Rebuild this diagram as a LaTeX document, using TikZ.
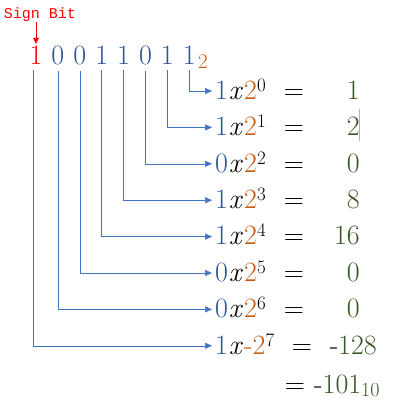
\documentclass[tikz,border=0pt]{standalone}
\usepackage{fontspec}
\usetikzlibrary{arrows.meta, positioning}
\newfontfamily\monofnt{Liberation Mono}
\definecolor{digblue}{HTML}{2F5597}
\definecolor{powor}{HTML}{C55A11}
\definecolor{valgreen}{HTML}{385723}
\definecolor{linkblue}{HTML}{4472C4}
% ridicare exponent
\newcommand\pw[1]{\raisebox{8pt}{\fontsize{19}{19}\selectfont #1}}
\newcommand\vx{\kern0.8pt\textit{x}\kern1.2pt}

\begin{document}
\begin{tikzpicture}[
        x=1pt, y=-1pt,
        % --- STILURI ---
        bit/.style={
                anchor=base,
                inner sep=1.5pt,
                text=digblue,
                font=\fontsize{28}{30}\selectfont
            },
        signbit/.style={
                bit,
                text=red
            },
        term/.style={
                anchor=west,
                inner xsep=3pt,
                inner ysep=0pt,
                text height=16.6pt,
                text depth=0pt,
                font=\fontsize{28}{30}\selectfont
            },
        eqsign/.style={
                anchor=base,
                font=\fontsize{28}{30}\selectfont
            },
        value/.style={
                anchor=base east,
                inner sep=0pt,
                text=valgreen,
                font=\fontsize{28}{30}\selectfont
            },
        link/.style={
                draw=linkblue,
                line width=0.5pt,
                -{Triangle[length=7pt, width=6pt]}
            },
        signarr/.style={
                draw=red,
                line width=0.7pt,
                -{Triangle[length=6pt, width=6pt]}
            }
    ]
    \useasboundingbox (0,0) rectangle (400,402);

    % 1. Eticheta bitului de semn
    \node[font=\monofnt\fontsize{15}{16}\selectfont, text=red, anchor=base, inner sep=1pt] (signlbl) at (40,18) {Sign Bit};

    % 2. Numarul binar
    \node[signbit] (bit7) at (36,64) {1};
    \foreach \d [count=\k] in {0,0,1,1,0,1,1} {
        \pgfmathtruncatemacro\n{7-\k}
        \node[bit] (bit\n) at ({36+21.9*\k},64) {\d};
    }
    \node[anchor=base, inner sep=0pt, text=powor, font=\fontsize{21}{22}\selectfont] (radix) at (203,68) {2};

    \draw[signarr] (signlbl.south -| bit7) -- (bit7.north);

    % 3. Termenii pozitivi
    \foreach \b/\v [count=\i from 0] in {1/1,1/2,0/0,1/8,1/16,0/0,0/0} {
        \node[term] (term\i) at (212,{91+36.4*\i}) {\textcolor{digblue}{\b}\vx\textcolor{powor}{2}\pw{\i}};
        \node[eqsign] (eq\i) at (294,{99.3+36.4*\i}) {=};
        \node[value] (val\i) at (360,{99.3+36.4*\i}) {\v};
        \draw[link] ([yshift=-4.5pt]bit\i.south) |- (term\i.west);
    }

    % 4. Termenul de semn
    \node[term] (term7) at (212,345.8) {\textcolor{digblue}{1}\vx\textcolor{powor}{-2}\pw{7}};
    \node[eqsign] (eq7) at (302,354) {=};
    \node[value] (val7) at (377,354) {\textcolor{black}{-}128};
    \draw[link] ([xshift=-3pt, yshift=-4.5pt]bit7.south) |- (term7.west);

    % 5. Rezultat
    \node[eqsign] (eqsum) at (295,393) {=};
    \node[value, anchor=base west] (sum) at (314,393) {\textcolor{black}{-}101\raisebox{-3pt}{\fontsize{20}{21}\selectfont 10}};

    % cursor
    \draw[gray!60, line width=0.6pt] (359.5,109) -- (359.5,141);

\end{tikzpicture}
\end{document}
